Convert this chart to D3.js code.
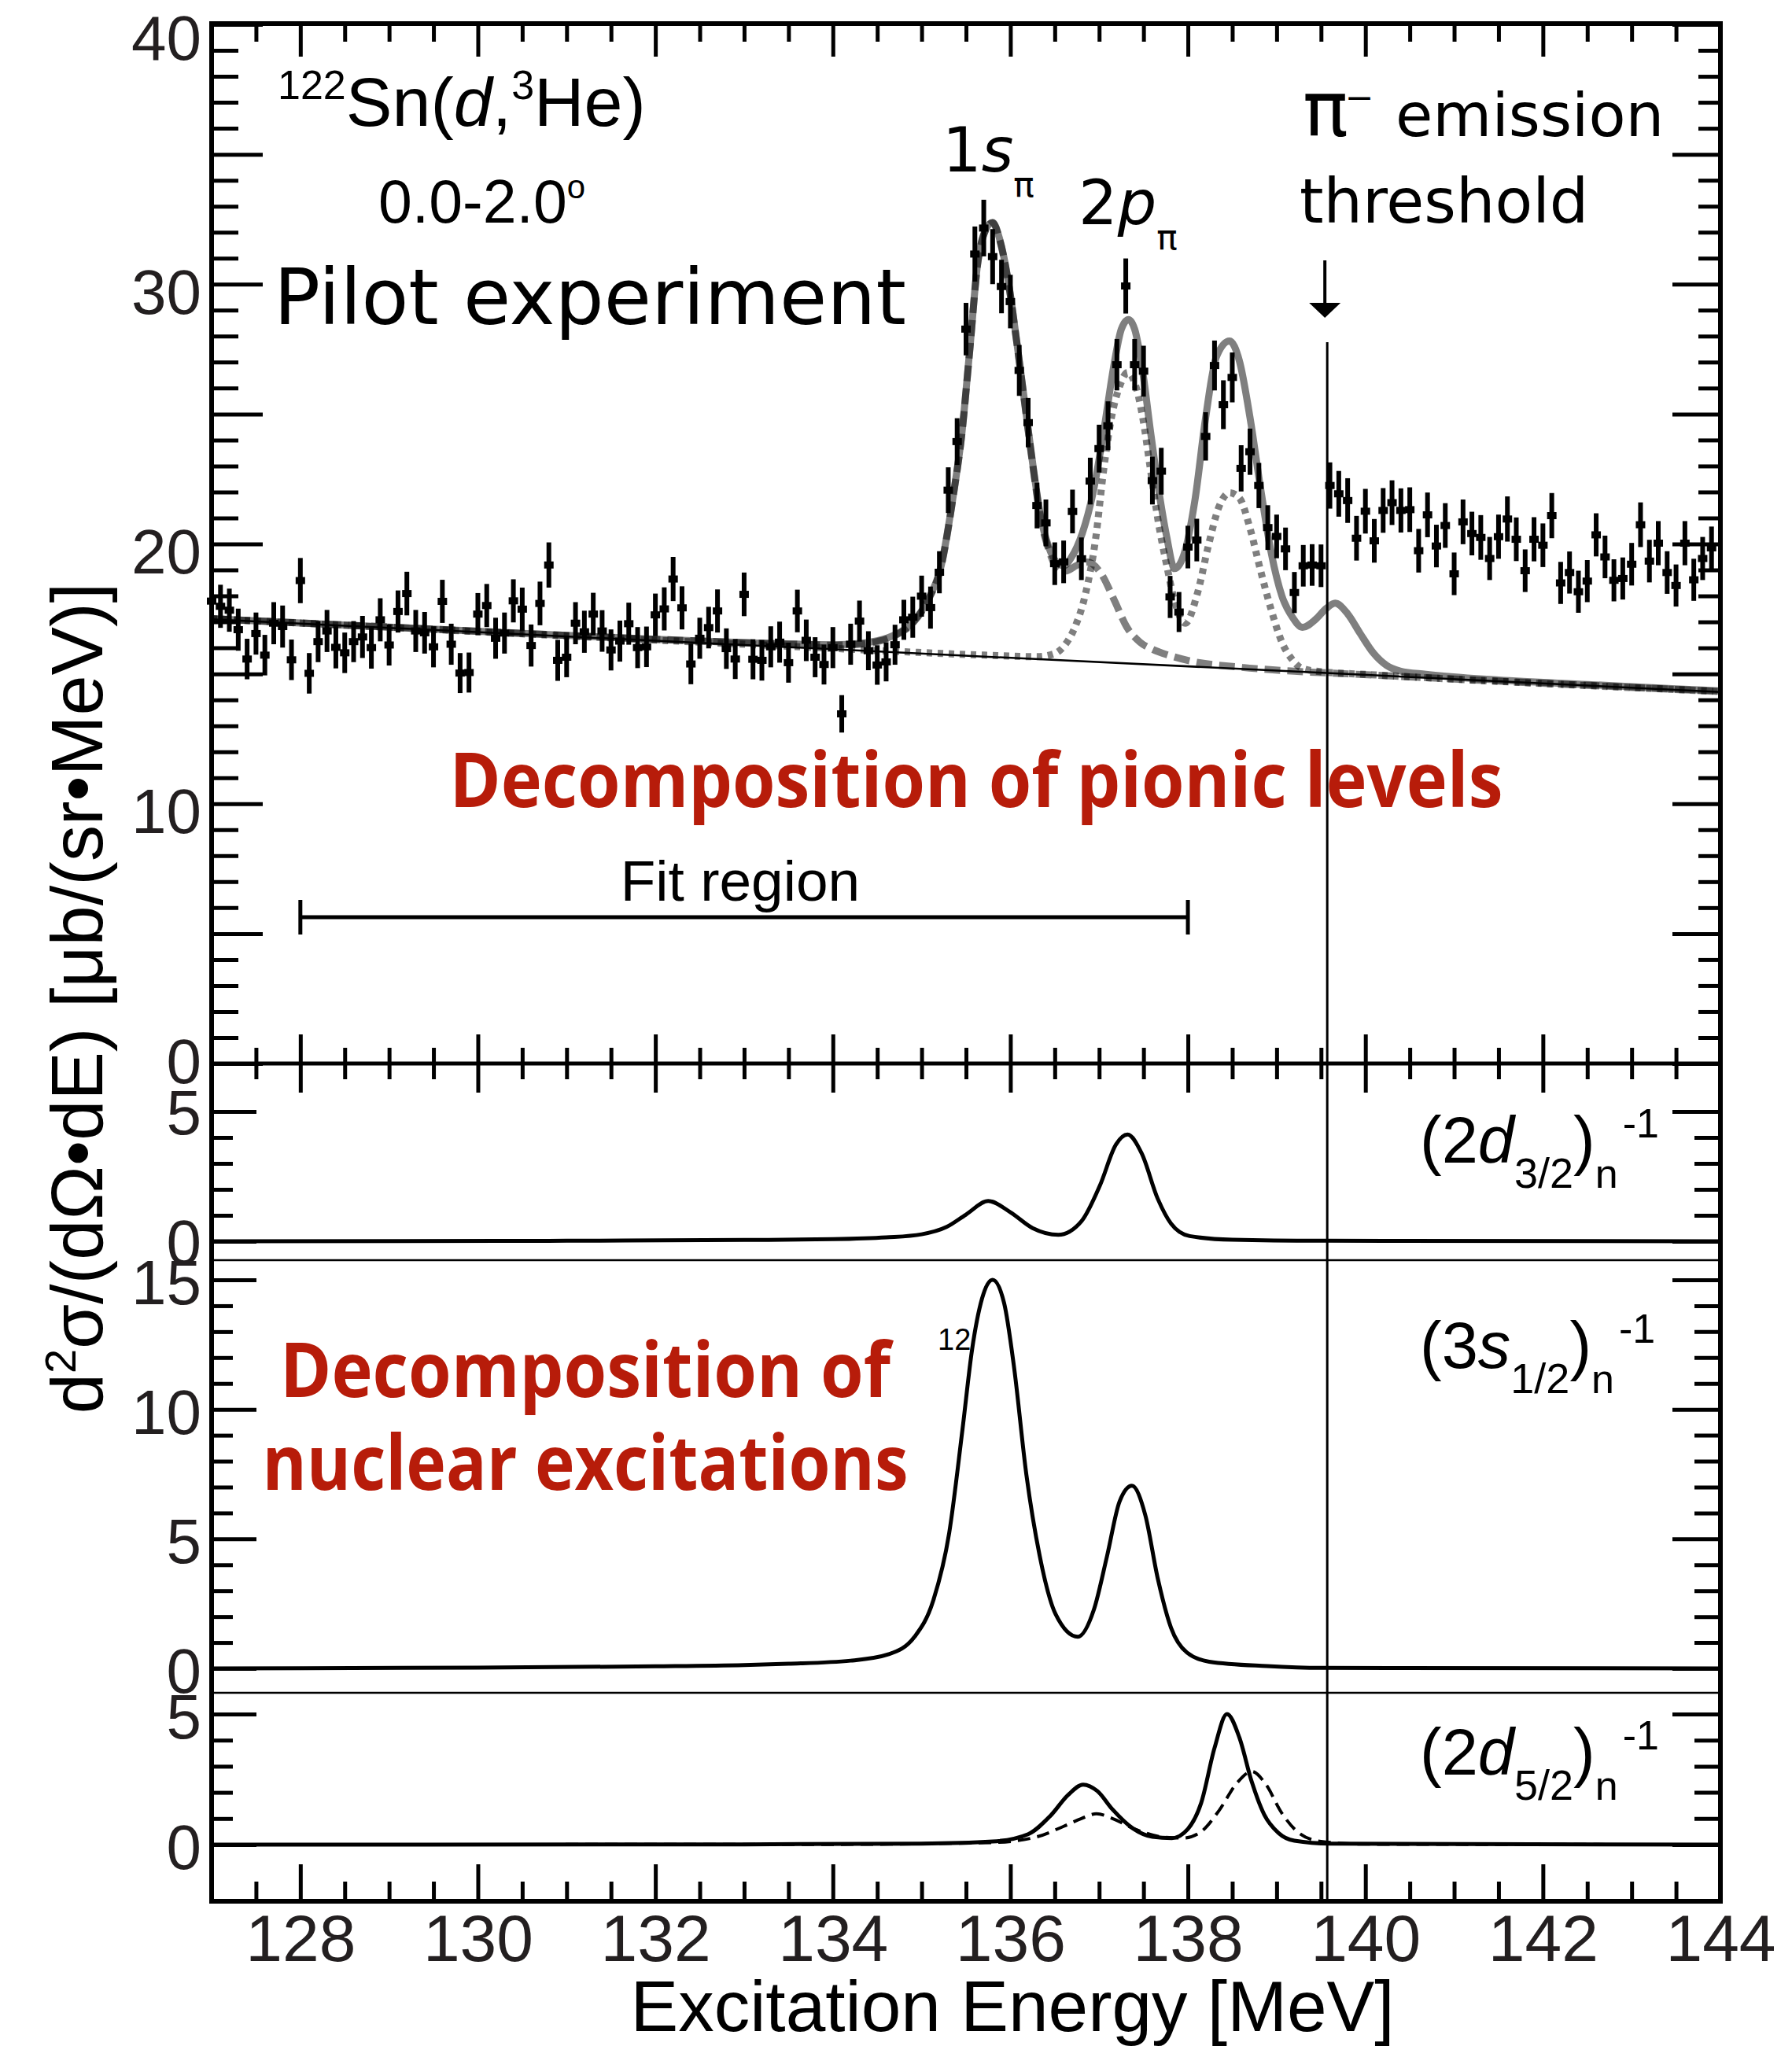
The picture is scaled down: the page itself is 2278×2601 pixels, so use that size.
<!DOCTYPE html>
<html>
<head>
<meta charset="utf-8">
<script src="https://cdn.jsdelivr.net/npm/d3@7/dist/d3.min.js"></script>
<style>
  body { margin: 0; background: #fff; }
  .tick line { stroke: #000; stroke-width: 5; }
  .tick text { fill: #231f20; font-family: 'Liberation Sans', Arial, Helvetica, sans-serif; }
</style>
</head>
<body>
<svg id="chart"></svg>
<script>
'use strict';

// ---------- data ----------
// histogram bins, 0.1 MeV wide, first bin centred on 127.0 MeV
const binLo = 127.0;
const binStep = 0.1;

// 127.0 - 130.6 MeV
const yieldLow = [17.8, 17.6, 17.45, 16.7, 15.57, 16.55, 15.72, 16.95, 16.82, 15.54,
  18.59, 15.02, 16.24, 16.65, 16.02, 15.81, 16.24, 16.42, 16.01, 17.08,
  16.11, 17.4, 18.09, 16.65, 16.58, 16.04, 17.79, 16.14, 15.03, 15.05,
  17.3, 17.63, 16.37, 16.57, 17.81, 17.49, 16.09];
const errLow = [0.84, 0.83, 0.83, 0.81, 0.78, 0.81, 0.78, 0.81, 0.81, 0.78,
  0.87, 0.78, 0.79, 0.81, 0.81, 0.78, 0.79, 0.81, 0.81, 0.83,
  0.79, 0.81, 0.84, 0.81, 0.8, 0.79, 0.83, 0.79, 0.77, 0.77,
  0.81, 0.83, 0.79, 0.79, 0.83, 0.83, 0.81];

// 130.7 - 134.2 MeV
const yieldMid = [17.71, 19.19, 15.52,
  15.64, 16.95, 16.62, 17.3, 16.65, 15.92, 16.26, 16.93, 16.01, 16.04,
  17.27, 17.5, 18.65, 17.54, 15.38, 16.37, 16.78, 17.42, 15.97, 15.57,
  18.06, 15.56, 15.52, 16.04, 16.22, 15.43, 17.42, 16.29, 15.64, 15.36,
  16.01, 13.46, 16.14];
const errMid = [0.84, 0.87, 0.79,
  0.77, 0.81, 0.81, 0.82, 0.8, 0.79, 0.79, 0.81, 0.79, 0.78,
  0.82, 0.83, 0.85, 0.83, 0.78, 0.79, 0.8, 0.83, 0.78, 0.77,
  0.84, 0.77, 0.78, 0.79, 0.79, 0.77, 0.82, 0.8, 0.77, 0.77,
  0.79, 0.72, 0.79];

// 134.3 - 137.8 MeV
const yieldPeak = [17.03, 15.89, 15.34, 15.46, 16.12, 17.08, 17.18,
  17.99, 17.55, 18.91, 22.07, 23.94, 28.27, 31.16, 32.16, 31.06, 29.91,
  29.33, 26.68, 24.67, 21.48, 20.81, 19.24, 19.31, 21.25, 19.43, 22.42,
  23.67, 24.55, 26.9, 29.93, 26.9, 26.65, 22.44, 22.8, 17.96];
const errPeak = [0.79, 0.75, 0.76, 0.75, 0.77, 0.77, 0.79,
  0.79, 0.81, 0.81, 0.88, 0.9, 1.01, 1.06, 1.09, 1.06, 1.03,
  1.03, 0.98, 0.95, 0.88, 0.9, 0.82, 0.82, 0.84, 0.82, 0.9,
  0.92, 0.94, 0.99, 1.06, 0.99, 0.98, 0.92, 0.9, 0.81];

// 137.9 - 141.2 MeV
const yieldHigh = [17.38,
  19.88, 20.15, 24.14, 26.87, 25.36, 26.41, 22.91, 23.55, 22.25, 20.63,
  20.29, 19.81, 18.13, 19.16, 19.19, 19.16, 22.25, 21.93, 21.67, 20.22,
  21.26, 20.12, 21.29, 21.59, 21.29, 21.32, 19.74, 21.12, 19.92, 20.71,
  18.85, 20.85, 20.4];
const errHigh = [0.77,
  0.82, 0.82, 0.93, 0.96, 0.94, 0.96, 0.89, 0.89, 0.87, 0.86,
  0.84, 0.82, 0.79, 0.8, 0.8, 0.82, 0.89, 0.88, 0.86, 0.86,
  0.86, 0.84, 0.86, 0.86, 0.85, 0.86, 0.84, 0.86, 0.82, 0.86,
  0.82, 0.86, 0.84];

// 141.3 - 143.9 MeV
const yieldTail = [20.25, 19.44, 20.28, 20.96, 20.18, 18.97, 20.18,
  19.95, 21.09, 18.5, 18.9, 18.16, 18.57, 20.35, 19.5, 18.6, 18.67,
  19.22, 20.74, 19.34, 20.03, 18.9, 18.4, 20.03, 18.62, 19.44, 19.85];
const errTail = [0.86, 0.83, 0.85, 0.87, 0.84, 0.82, 0.85,
  0.84, 0.87, 0.81, 0.81, 0.81, 0.81, 0.83, 0.82, 0.81, 0.81,
  0.82, 0.86, 0.82, 0.85, 0.82, 0.81, 0.85, 0.81, 0.83, 0.82];

// fit curves in the top panel, [MeV, value]
const background = [[127, 17.1], [144, 14.3]];
const fitTotal = [[127, 17.12], [128, 16.96], [129, 16.8], [130, 16.64], [131, 16.48], [132, 16.33],
  [133, 16.2], [133.5, 16.15], [134, 16.12], [134.3, 16.17], [134.5, 16.27], [134.7, 16.5],
  [134.9, 16.98], [135.07, 17.84], [135.22, 19.16], [135.36, 21.95], [135.45, 24.16],
  [135.54, 27.39], [135.63, 30.77], [135.72, 32.09], [135.8, 32.38], [135.88, 31.72],
  [135.98, 30.03], [136.07, 27.83], [136.16, 25.48], [136.25, 23.13], [136.34, 21.07],
  [136.43, 19.9], [136.52, 19.3], [136.6, 19.16], [136.69, 19.5], [136.81, 20.41],
  [136.93, 21.95], [137.05, 24.3], [137.17, 26.95], [137.25, 28.27], [137.33, 28.64],
  [137.4, 28.27], [137.49, 26.65], [137.58, 24.3], [137.67, 22.1], [137.76, 20.3],
  [137.85, 19.05], [137.96, 19.64], [138.08, 21.7], [138.2, 24.86], [138.32, 27.19],
  [138.47, 27.81], [138.58, 27.05], [138.7, 24.86], [138.82, 22.11], [138.94, 19.64],
  [139.06, 17.99], [139.18, 17.17], [139.29, 16.79], [139.44, 17.1], [139.56, 17.52],
  [139.66, 17.72], [139.8, 17.31], [139.94, 16.56], [140.09, 15.8], [140.24, 15.32],
  [140.39, 15.11], [140.68, 14.98], [141.5, 14.76], [142.5, 14.59], [143.5, 14.42], [144, 14.34]];
const fit1s = [[127, 17.12], [128, 16.96], [129, 16.8], [130, 16.64], [131, 16.48], [132, 16.33],
  [133, 16.2], [133.5, 16.15], [134, 16.1], [134.3, 16.14], [134.5, 16.24], [134.7, 16.47],
  [134.9, 16.95], [135.07, 17.82], [135.22, 19.14], [135.36, 21.93], [135.45, 24.14],
  [135.54, 27.37], [135.63, 30.75], [135.72, 32.07], [135.8, 32.36], [135.88, 31.7],
  [135.98, 30.0], [136.07, 27.8], [136.16, 25.44], [136.25, 23.08], [136.34, 21.0],
  [136.43, 19.8], [136.52, 19.12], [136.62, 18.96], [136.75, 19.18], [136.87, 19.3],
  [137.02, 18.87], [137.17, 17.84], [137.31, 16.81], [137.46, 16.22], [137.61, 15.93],
  [137.79, 15.71], [138.02, 15.5], [138.61, 15.25], [139.2, 15.1], [139.8, 15.0],
  [141, 14.8], [144, 14.32]];
const fit2p = [[127, 17.12], [131, 16.46], [134, 15.98], [134.8, 15.85], [135.7, 15.72],
  [136.3, 15.66], [136.5, 15.78], [136.6, 16.05], [136.72, 16.74], [136.84, 17.99],
  [136.96, 20.19], [137.05, 22.83], [137.14, 24.89], [137.23, 26.06], [137.32, 26.6],
  [137.4, 26.21], [137.49, 24.89], [137.58, 22.83], [137.67, 20.78], [137.76, 19.2],
  [137.85, 17.8], [137.97, 16.95], [138.11, 18.13], [138.23, 19.92], [138.35, 21.43],
  [138.47, 21.97], [138.58, 21.77], [138.7, 20.6], [138.82, 18.96], [138.94, 17.45],
  [139.06, 16.21], [139.18, 15.53], [139.28, 15.22], [139.5, 15.08], [140, 14.98], [144, 14.32]];

// nuclear-excitation decomposition panels
const curveD32 = [[127, 0], [131, 0.02], [133, 0.05], [134, 0.08], [134.6, 0.15], [135.0, 0.27],
  [135.28, 0.55], [135.5, 1.03], [135.75, 1.55], [136.0, 1.12], [136.25, 0.51], [136.54, 0.25],
  [136.8, 0.77], [137.01, 2.16], [137.19, 3.73], [137.32, 4.11], [137.48, 3.38], [137.66, 1.64],
  [137.81, 0.68], [138.02, 0.2], [138.5, 0.06], [139.5, 0.02], [144, 0]];
const curveS12 = [[127, 0], [130, 0.03], [132, 0.08], [133, 0.13], [133.5, 0.18], [134.2, 0.3],
  [134.63, 0.55], [134.92, 1.22], [135.13, 2.61], [135.31, 5.22], [135.46, 9.22], [135.57, 12.35],
  [135.68, 14.27], [135.8, 15.0], [135.93, 14.09], [136.04, 11.66], [136.18, 7.48], [136.33, 4.35],
  [136.51, 2.09], [136.76, 1.22], [136.94, 2.26], [137.09, 4.35], [137.23, 6.44], [137.37, 7.05],
  [137.52, 5.92], [137.66, 3.48], [137.81, 1.57], [137.99, 0.61], [138.24, 0.26], [138.89, 0.09],
  [139.5, 0.02], [144, 0]];
const curveD52 = [[127, 0], [133, 0.01], [135, 0.04], [135.8, 0.12], [136.2, 0.4], [136.45, 1.1],
  [136.65, 1.9], [136.82, 2.3], [136.98, 2.05], [137.15, 1.35], [137.38, 0.62], [137.6, 0.3],
  [137.82, 0.25], [138.0, 0.6], [138.15, 1.6], [138.3, 3.7], [138.44, 5.0], [138.58, 4.1],
  [138.72, 2.4], [138.86, 1.15], [139.02, 0.45], [139.2, 0.15], [139.6, 0.04], [144, 0]];
const curveD52b = [[127, 0], [134, 0.01], [135.8, 0.08], [136.3, 0.3], [136.6, 0.7], [136.8, 1.0],
  [136.97, 1.18], [137.15, 1.0], [137.4, 0.6], [137.7, 0.3], [137.95, 0.25], [138.15, 0.5],
  [138.35, 1.3], [138.55, 2.35], [138.72, 2.8], [138.88, 2.3], [139.05, 1.25], [139.25, 0.45],
  [139.5, 0.12], [140, 0.02], [144, 0]];

const piThreshold = 139.57;
const fitRange = [128, 138];

// ---------- layout ----------
const W = 2278, H = 2601;
const xLeft = 269, xRight = 2187, yTopEdge = 30, yBottomEdge = 2417;
const sep1 = 1602, sep2 = 2152;

const helv = "'Liberation Sans', Arial, Helvetica, sans-serif";
const lucida = "'DejaVu Sans', 'Lucida Grande', sans-serif";
const myriad = "'Open Sans', 'Myriad Pro', sans-serif";
const red = '#b71c0a';

const svg = d3.select('#chart').attr('width', W).attr('height', H)
  .attr('viewBox', `0 0 ${W} ${H}`);

const x = d3.scaleLinear().domain([127, 144]).range([xLeft, xRight]);
const yTop = d3.scaleLinear().domain([0, 40]).range([1352, 31]);
const yD32 = d3.scaleLinear().domain([0, 5]).range([1578, 1413]);
const yS12 = d3.scaleLinear().domain([0, 15]).range([2121, 1627]);
const yD52 = d3.scaleLinear().domain([0, 5]).range([2345, 2179]);

const lineOn = (ys) => d3.line().x((d) => x(d[0])).y((d) => ys(d[1])).curve(d3.curveMonotoneX);

const axisG = (t) => svg.append('g').attr('transform', t);
const clean = (g) => {
  g.select('.domain').remove();
  g.attr('font-family', null).attr('font-size', null);
  return g;
};

// ---------- fit curves (top panel) ----------
const grey = (sel) => sel.attr('fill', 'none').attr('stroke', '#000')
  .attr('stroke-opacity', 0.5).attr('stroke-width', 9);

svg.append('path').datum(fitTotal).attr('d', lineOn(yTop)).call(grey);
svg.append('path').datum(fit1s).attr('d', lineOn(yTop)).call(grey)
  .attr('stroke-dasharray', '20,9');
svg.append('path').datum(fit2p).attr('d', lineOn(yTop)).call(grey)
  .attr('stroke-dasharray', '7,7');
svg.append('path').datum(background).attr('d', lineOn(yTop))
  .attr('fill', 'none').attr('stroke', '#000').attr('stroke-width', 2.5);

// ---------- data points ----------
const yields = [].concat(yieldLow, yieldMid, yieldPeak, yieldHigh, yieldTail);
const errors = [].concat(errLow, errMid, errPeak, errHigh, errTail);
const points = yields.map((v, i) => ({ E: binLo + i * binStep, v, e: errors[i] }));

const pts = svg.append('g').selectAll('g').data(points).enter().append('g');
pts.append('line')
  .attr('x1', (d) => x(d.E)).attr('x2', (d) => x(d.E))
  .attr('y1', (d) => yTop(d.v - d.e)).attr('y2', (d) => yTop(d.v + d.e))
  .attr('stroke', '#000').attr('stroke-width', 6);
pts.append('rect')
  .attr('x', (d) => x(d.E) - 6).attr('y', (d) => yTop(d.v) - 4.5)
  .attr('width', 12).attr('height', 9).attr('fill', '#000');

// ---------- lower panels ----------
const blackCurve = (data, ys) => svg.append('path').datum(data).attr('d', lineOn(ys))
  .attr('fill', 'none').attr('stroke', '#000').attr('stroke-width', 5);
blackCurve(curveD32, yD32);
blackCurve(curveS12, yS12);
blackCurve(curveD52, yD52);
blackCurve(curveD52b, yD52).attr('stroke-width', 4).attr('stroke-dasharray', '16,9');

// ---------- frame, separators, threshold ----------
svg.append('rect').attr('x', xLeft).attr('y', yTopEdge)
  .attr('width', xRight - xLeft).attr('height', yBottomEdge - yTopEdge)
  .attr('fill', 'none').attr('stroke', '#000').attr('stroke-width', 6);
svg.append('line').attr('x1', xLeft).attr('x2', xRight)
  .attr('y1', yTop(0)).attr('y2', yTop(0)).attr('stroke', '#000').attr('stroke-width', 5);
[sep1, sep2].forEach((yy) => svg.append('line').attr('x1', xLeft).attr('x2', xRight)
  .attr('y1', yy).attr('y2', yy).attr('stroke', '#000').attr('stroke-width', 2.5));
svg.append('line').attr('x1', x(piThreshold)).attr('x2', x(piThreshold))
  .attr('y1', 435).attr('y2', yBottomEdge).attr('stroke', '#000').attr('stroke-width', 3);

// ---------- axes ----------
const xMajor = d3.range(128, 145, 2);
const xMinor = d3.range(127.5, 144, 0.5).filter((v) => !xMajor.includes(v));

const xTicks = (y, maker, vals, size) =>
  clean(axisG(`translate(0,${y})`).call(maker(x).tickValues(vals).tickSizeInner(size)
    .tickSizeOuter(0).tickFormat('')));

// top edge, ticks pointing down
xTicks(yTopEdge, d3.axisBottom, xMinor, 23);
xTicks(yTopEdge, d3.axisBottom, xMajor, 42);
// shared axis between top and lower panels, ticks both ways
xTicks(yTop(0), d3.axisBottom, xMinor, 20);
xTicks(yTop(0), d3.axisBottom, xMajor, 37);
xTicks(yTop(0), d3.axisTop, xMinor, 20);
xTicks(yTop(0), d3.axisTop, xMajor, 37);
// bottom edge, ticks pointing up
xTicks(yBottomEdge, d3.axisTop, xMinor, 25);
xTicks(yBottomEdge, d3.axisTop, xMajor, 47);
const xLab = clean(axisG(`translate(0,${yBottomEdge})`)
  .call(d3.axisBottom(x).tickValues(xMajor).tickSize(0).tickPadding(16).tickFormat(d3.format('d'))));
xLab.selectAll('line').remove();
xLab.selectAll('text').attr('font-size', 84);

function yAxes(scale, minor, major, labelled, sz, dy) {
  clean(axisG(`translate(${xLeft},0)`).call(d3.axisLeft(scale).tickValues(minor)
    .tickSizeInner(-sz[0]).tickSizeOuter(0).tickFormat('')));
  const g = clean(axisG(`translate(${xLeft},0)`).call(d3.axisLeft(scale).tickValues(major)
    .tickSizeInner(-sz[1]).tickSizeOuter(0).tickPadding(13)
    .tickFormat((d) => (labelled.includes(d) ? d3.format('d')(d) : ''))));
  g.selectAll('text').attr('font-size', 80).attr('dy', dy);
  clean(axisG(`translate(${xRight},0)`).call(d3.axisRight(scale).tickValues(minor)
    .tickSizeInner(-sz[2]).tickSizeOuter(0).tickFormat('')));
  clean(axisG(`translate(${xRight},0)`).call(d3.axisRight(scale).tickValues(major)
    .tickSizeInner(-sz[3]).tickSizeOuter(0).tickFormat('')));
  return g;
}
const fives = (lo, hi) => d3.range(lo, hi + 1).filter((v) => v % 5 === 0);
const ones = (lo, hi) => d3.range(lo, hi + 1).filter((v) => v % 5 !== 0);
const gTop = yAxes(yTop, ones(0, 40), fives(0, 40), [0, 10, 20, 30, 40], [34, 65, 28, 61], '0.46em');
gTop.selectAll('text').filter((d) => d === 40).attr('dy', '0.55em');
gTop.selectAll('text').filter((d) => d === 0).attr('dy', '0.3em');
yAxes(yD32, ones(0, 5), fives(0, 5), [0, 5], [27, 57, 33, 61], '0.36em');
yAxes(yS12, ones(0, 15), fives(0, 15), [0, 5, 10, 15], [27, 57, 33, 61], '0.38em');
yAxes(yD52, ones(0, 5), fives(0, 5), [0, 5], [27, 57, 33, 61], '0.38em');

// ---------- text ----------
const text = (xx, yy, size, family, anchor) => svg.append('text')
  .attr('x', xx).attr('y', yy).attr('font-size', size).attr('font-family', family)
  .attr('text-anchor', anchor || 'start').attr('fill', '#000');

// reaction
const t1 = text(353, 160, 88, helv);
t1.append('tspan').attr('font-size', 52).attr('dy', -34).text('122');
t1.append('tspan').attr('dy', 34).text('Sn(');
t1.append('tspan').attr('font-style', 'italic').text('d');
t1.append('tspan').text(',');
t1.append('tspan').attr('font-size', 52).attr('dy', -34).text('3');
t1.append('tspan').attr('dy', 34).text('He)');

const t2 = text(481, 283, 77, helv);
t2.append('tspan').text('0.0-2.0');
t2.append('tspan').attr('font-size', 42).attr('dy', -31).text('o');

text(348, 412, 98, lucida).text('Pilot experiment');

// pionic level labels
const t1s = text(1198, 218, 78, lucida);
t1s.append('tspan').text('1');
t1s.append('tspan').attr('font-style', 'italic').text('s');
t1s.append('tspan').attr('font-size', 44).attr('dy', 32).text('π');
const t2p = text(1371, 285, 78, lucida);
t2p.append('tspan').text('2');
t2p.append('tspan').attr('font-style', 'italic').text('p');
t2p.append('tspan').attr('font-size', 44).attr('dy', 32).text('π');

const tpi = text(1656, 173, 77, lucida);
tpi.append('tspan').attr('font-size', 96).text('π');
tpi.append('tspan').attr('font-size', 44).attr('dx', -4).attr('dy', -34).text('−');
tpi.append('tspan').attr('x', 1774).attr('dy', 34).text('emission');
text(1652, 283, 78, lucida).text('threshold');

// threshold arrow
const ax = x(piThreshold) - 3;
svg.append('line').attr('x1', ax).attr('x2', ax).attr('y1', 331).attr('y2', 390)
  .attr('stroke', '#000').attr('stroke-width', 4);
svg.append('path').attr('d', `M${ax - 20},385 L${ax + 20},385 L${ax},404 Z`).attr('fill', '#000');

// red captions
const caption = (xx, yy, len, s) => text(xx, yy, 96, myriad, 'middle')
  .attr('font-weight', 700).attr('fill', red)
  .attr('textLength', len).attr('lengthAdjust', 'spacingAndGlyphs').text(s);
caption(1241, 1026, 1339, 'Decomposition of pionic levels');
caption(744, 1776, 776, 'Decomposition of');
caption(744, 1894, 821, 'nuclear excitations');

// fit region bar
text((x(fitRange[0]) + x(fitRange[1])) / 2 - 5, 1145, 73, helv, 'middle').text('Fit region');
const fr = svg.append('g').attr('stroke', '#000').attr('stroke-width', 5);
fr.append('line').attr('x1', x(fitRange[0])).attr('x2', x(fitRange[1])).attr('y1', 1166).attr('y2', 1166);
fitRange.forEach((e) => fr.append('line').attr('x1', x(e)).attr('x2', x(e))
  .attr('y1', 1144).attr('y2', 1188));

// stray small label in the 3s panel
text(1192, 1716, 38, helv).text('12');

// panel labels
function shellLabel(yBase, lead, orb, sub) {
  const t = text(1805, yBase, 83, helv);
  t.append('tspan').text('(' + lead);
  t.append('tspan').attr('font-style', 'italic').text(orb);
  t.append('tspan').attr('font-size', 54).attr('dy', 32).text(sub);
  t.append('tspan').attr('dy', -32).text(')');
  t.append('tspan').attr('font-size', 52).attr('dy', 32).text('n');
  t.append('tspan').attr('font-size', 52).attr('dx', 6).attr('dy', -64).text('-1');
}
shellLabel(1478, '2', 'd', '3/2');
shellLabel(1739, '3', 's', '1/2');
shellLabel(2256, '2', 'd', '5/2');

// axis titles
const yt = svg.append('text').attr('transform', 'translate(130,1269) rotate(-90)')
  .attr('text-anchor', 'middle').attr('font-size', 92).attr('font-family', helv).attr('fill', '#000');
yt.append('tspan').text('d');
yt.append('tspan').attr('font-size', 56).attr('dy', -34).text('2');
yt.append('tspan').attr('dy', 34).text('σ/(dΩ•dE) [μb/(sr•MeV)]');

text(1287, 2582, 91, helv, 'middle').text('Excitation Energy [MeV]');
</script>
</body>
</html>
